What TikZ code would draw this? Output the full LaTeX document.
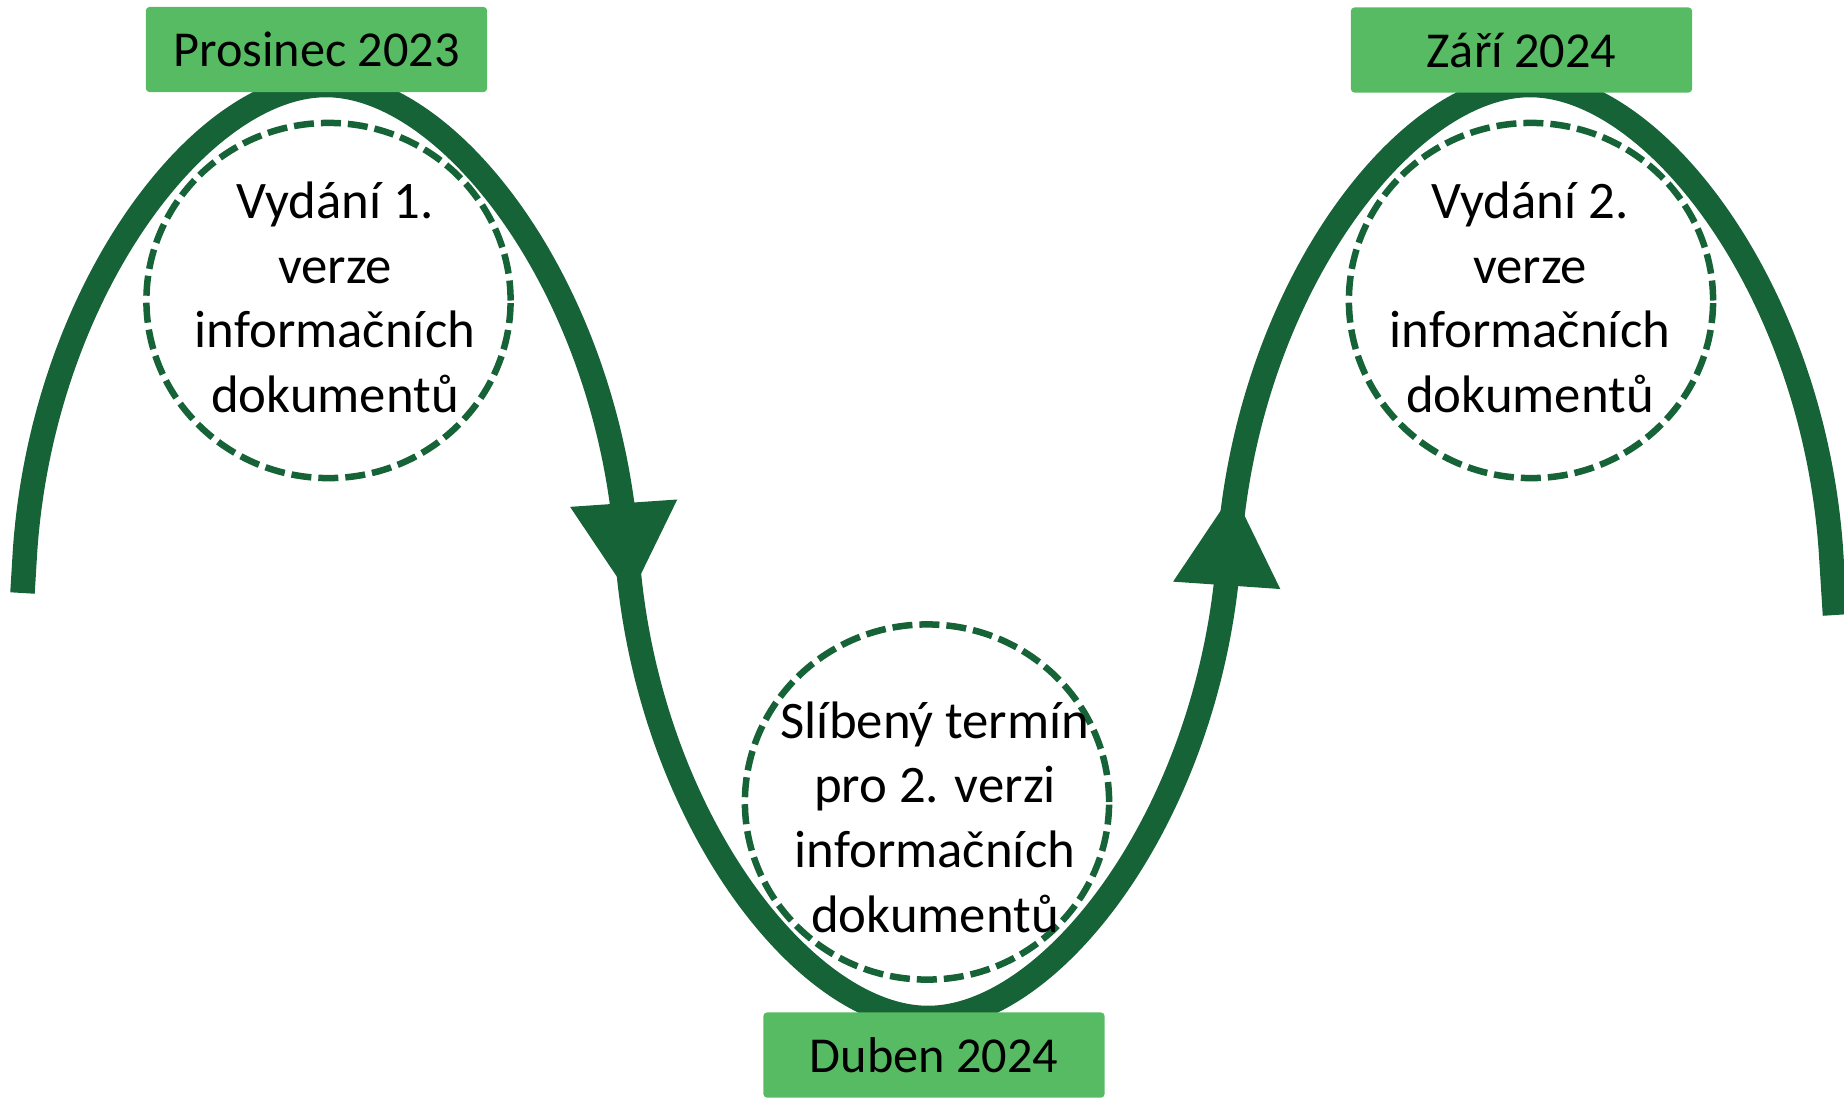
\documentclass[tikz,border=0pt]{standalone}
\usepackage{fontspec}
\setmainfont{Carlito}
\usetikzlibrary{arrows.meta,shapes.geometric}
\definecolor{wavegreen}{RGB}{22,99,55}
\definecolor{boxgreen}{RGB}{87,187,99}
\tikzset{
  wave/.style={draw=wavegreen,line width=0.245cm},
  tipped/.style={-{Triangle[length=0.95cm,width=1cm]}},
  datebox/.style={rectangle,fill=boxgreen,rounded corners=1pt,inner sep=0pt,
    minimum width=3.41cm,minimum height=0.85cm,text height=0.97em,text depth=0pt,
    font=\fontsize{14.3}{17.4}\selectfont},
  ring/.style={ellipse,draw=wavegreen,line width=0.065cm,dash pattern=on 0.2cm off 0.07cm,
    minimum width=3.64cm,minimum height=3.55cm,inner sep=0pt},
  note/.style={align=center,inner sep=0pt,font=\fontsize{15}{18.4}\selectfont}
}
\begin{document}
\begin{tikzpicture}[x=0.01cm,y=-0.01cm]
\useasboundingbox (0,0) rectangle (1844,1102);
% \draw[help lines,step=100] (0,0) grid (1844,1102);
\coordinate (lend) at (22.5,593);
\coordinate (mid1) at (25,551.5);
\coordinate (peak1) at (326,85);
\coordinate (mid2) at (627,551.5);
\coordinate (tip1) at (630.2,598);
\coordinate (dip) at (928,1018);
\coordinate (mid3) at (1229,551.5);
\coordinate (tip2) at (1233.2,490.5);
\coordinate (peak2) at (1530,85);
\coordinate (mid4) at (1831,551.5);
\coordinate (rend) at (1835,615);
%
\draw[wave] (lend) -- (mid1)
  .. controls +(17.7,-260) and +(-125,0) .. (peak1)
  .. controls +(125,0) and +(-17.7,-260) .. (mid2)
  .. controls +(17.7,260) and +(-125,0) .. (dip)
  .. controls +(125,0) and +(-17.7,260) .. (mid3)
  .. controls +(17.7,-260) and +(-125,0) .. (peak2)
  .. controls +(125,0) and +(-17.7,-260) .. (mid4) -- (rend);
\draw[wave,tipped] (mid2) -- (tip1);
\draw[wave,tipped] (mid3) -- (tip2);
%
\node (dec) [datebox] at (316.5,49.5) {Prosinec 2023};
\node (sep) [datebox] at (1521.5,50) {Září 2024};
\node (apr) [datebox] at (934,1055) {Duben 2024};
%
\node (ring1) [ring] at (328.5,300.5) {};
\node (ring2) [ring] at (927,802) {};
\node (ring3) [ring] at (1531,300.5) {};
\node (note1) [note] at (335,297.5) {Vydání 1.\\verze\\informačních\\dokumentů};
\node (note2) [note] at (935,817) {Slíbený termín\\pro 2. verzi\\informačních\\dokumentů};
\node (note3) [note] at (1530,297.5) {Vydání 2.\\verze\\informačních\\dokumentů};
\end{tikzpicture}
\end{document}
